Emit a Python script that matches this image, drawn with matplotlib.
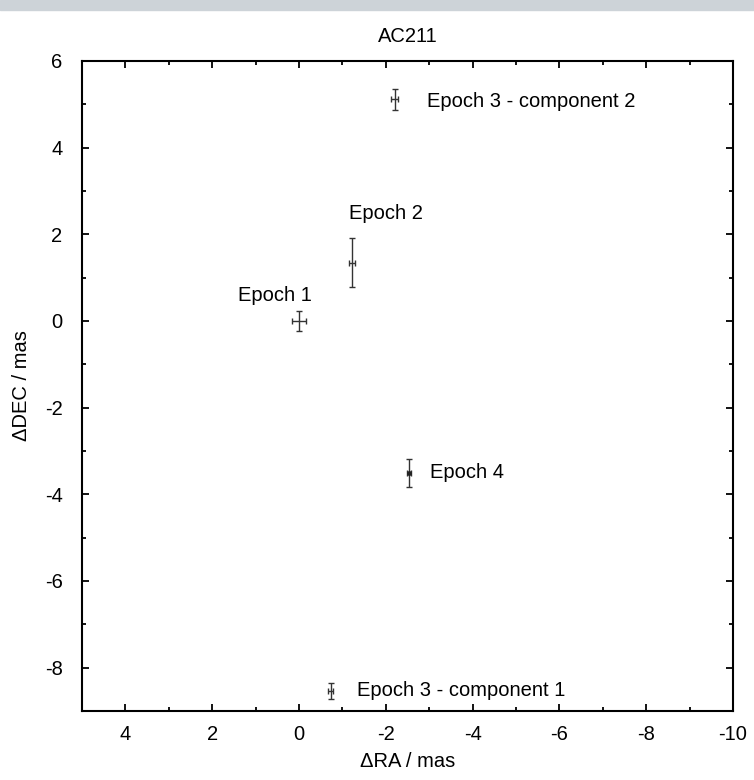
import matplotlib
matplotlib.use("Agg")
import matplotlib.pyplot as plt
from matplotlib.patches import Rectangle
from matplotlib.ticker import MultipleLocator

plt.rcParams['font.family'] = ['Liberation Sans', 'DejaVu Sans']
plt.rcParams['axes.unicode_minus'] = False

# positions relative to epoch 1 (mas)
names = ["Epoch 1", "Epoch 2", "Epoch 3 - component 2", "Epoch 3 - component 1", "Epoch 4"]
ra = [0.0, -1.22, -2.21, -0.73, -2.53]
dec = [0.0, 1.35, 5.12, -8.54, -3.50]
ra_err = [0.15, 0.06, 0.08, 0.06, 0.04]
dec_err = [0.23, 0.56, 0.24, 0.19, 0.32]

# where the labels go
lab_x = [0.56, -2.0, -2.95, -1.34, -3.02]
lab_y = [0.58, 2.49, 5.06, -8.52, -3.49]
lab_ha = ["center", "center", "left", "left", "left"]

fig = plt.figure(figsize=(7.54, 7.80), dpi=100)
# strip of page background at the very top
fig.patches.append(Rectangle((0, 1 - 10 / 780), 1, 10 / 780, transform=fig.transFigure,
                             color="#cdd3d8", zorder=-1))
ax = fig.add_axes([82 / 754, 1 - 711 / 780, 651 / 754, 650 / 780])

for i in range(len(names)):
    mk = "o" if names[i] == "Epoch 4" else "none"
    ax.errorbar(ra[i], dec[i], xerr=ra_err[i], yerr=dec_err[i], fmt=mk, ms=2.5,
                color="#222222", ecolor="#333333", elinewidth=1.0, capsize=2.5, capthick=1.0)
    ax.text(lab_x[i], lab_y[i], names[i], ha=lab_ha[i], va="center", fontsize=14.5)

ax.set_xlim(5, -10)
ax.set_ylim(-9, 6)
ax.xaxis.set_major_locator(MultipleLocator(2))
ax.xaxis.set_minor_locator(MultipleLocator(1))
ax.yaxis.set_major_locator(MultipleLocator(2))
ax.yaxis.set_minor_locator(MultipleLocator(1))
ax.tick_params(which="both", direction="in", top=True, right=True, width=1.3, labelsize=14.5)
ax.tick_params(which="major", length=5)
ax.tick_params(which="minor", length=3)
ax.tick_params(axis="x", pad=10)
ax.tick_params(axis="y", pad=14)
for s in ax.spines.values():
    s.set_linewidth(1.5)

ax.set_xlabel("ΔRA / mas", fontsize=14.5, labelpad=6)
ax.set_ylabel("ΔDEC / mas", fontsize=14.5, labelpad=10)
ax.set_title("AC211", fontsize=14.5, pad=14)

fig.savefig("out.png", dpi=100)
